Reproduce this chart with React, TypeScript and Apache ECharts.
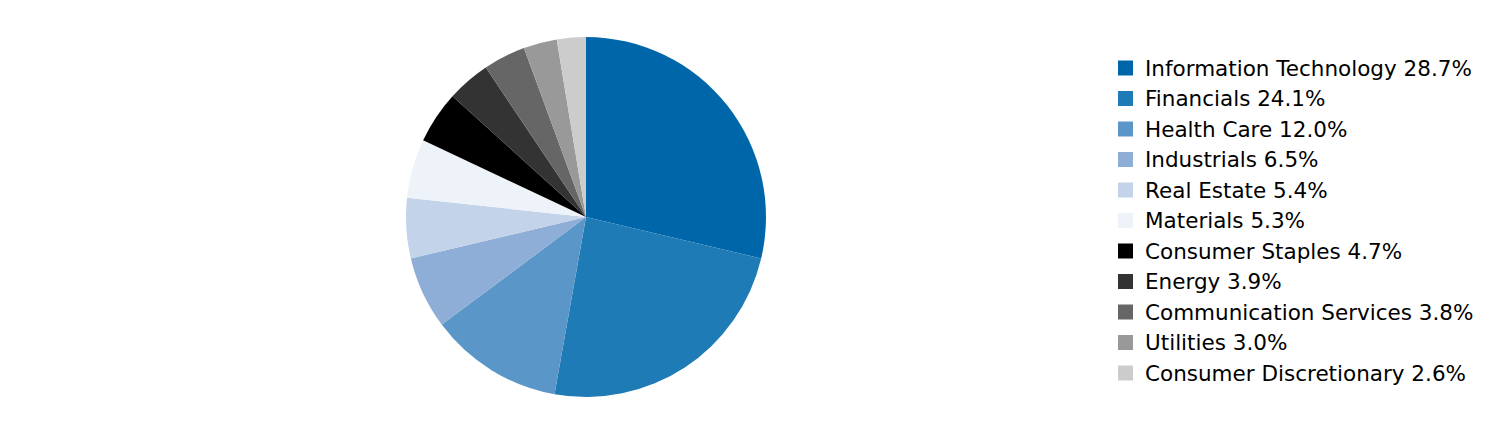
import { useEffect, useRef } from 'react';
import * as echarts from 'echarts';
import type { EChartsOption } from 'echarts';

const sectors = [
  'Information Technology',
  'Financials',
  'Health Care',
  'Industrials',
  'Real Estate',
  'Materials',
  'Consumer Staples',
  'Energy',
  'Communication Services',
  'Utilities',
  'Consumer Discretionary',
];

const weights = [28.7, 24.1, 12.0, 6.5, 5.4, 5.3, 4.7, 3.9, 3.8, 3.0, 2.6];

const sectorColors = [
  '#0066aa',
  '#1f7bb6',
  '#5b96c8',
  '#8eaed8',
  '#c2d3ea',
  '#eef2f9',
  '#000000',
  '#333333',
  '#666666',
  '#999999',
  '#cccccc',
];

export default function App() {
  const chartRef = useRef<HTMLDivElement>(null);

  useEffect(() => {
    document.body.style.margin = '0';
    if (!chartRef.current) return;
    const chart = echarts.init(chartRef.current, null, { renderer: 'svg' });

    const weightByName: Record<string, number> = {};
    sectors.forEach((s, i) => {
      weightByName[s] = weights[i];
    });

    const option: EChartsOption = {
      animation: false,
      color: sectorColors,
      legend: {
        orient: 'vertical',
        left: 1118,
        top: 57,
        padding: 0,
        itemWidth: 15,
        itemHeight: 15,
        itemGap: 8.5,
        icon: 'rect',
        textStyle: {
          fontFamily: 'DejaVu Sans',
          fontSize: 21.5,
          lineHeight: 20,
          color: '#000',
          padding: [0, 0, 0, 7],
        },
        formatter: (name: string) => `${name} ${weightByName[name].toFixed(1)}%`,
      },
      series: [
        {
          type: 'pie',
          center: [586, 217],
          radius: 180,
          startAngle: 90,
          clockwise: true,
          label: { show: false },
          labelLine: { show: false },
          emphasis: { disabled: true },
          itemStyle: { borderWidth: 0 },
          data: sectors.map((name, i) => ({ name, value: weights[i] })),
        },
      ],
    };

    chart.setOption(option);
    return () => {
      chart.dispose();
    };
  }, []);

  return <div ref={chartRef} style={{ width: 1512, height: 444 }} />;
}
